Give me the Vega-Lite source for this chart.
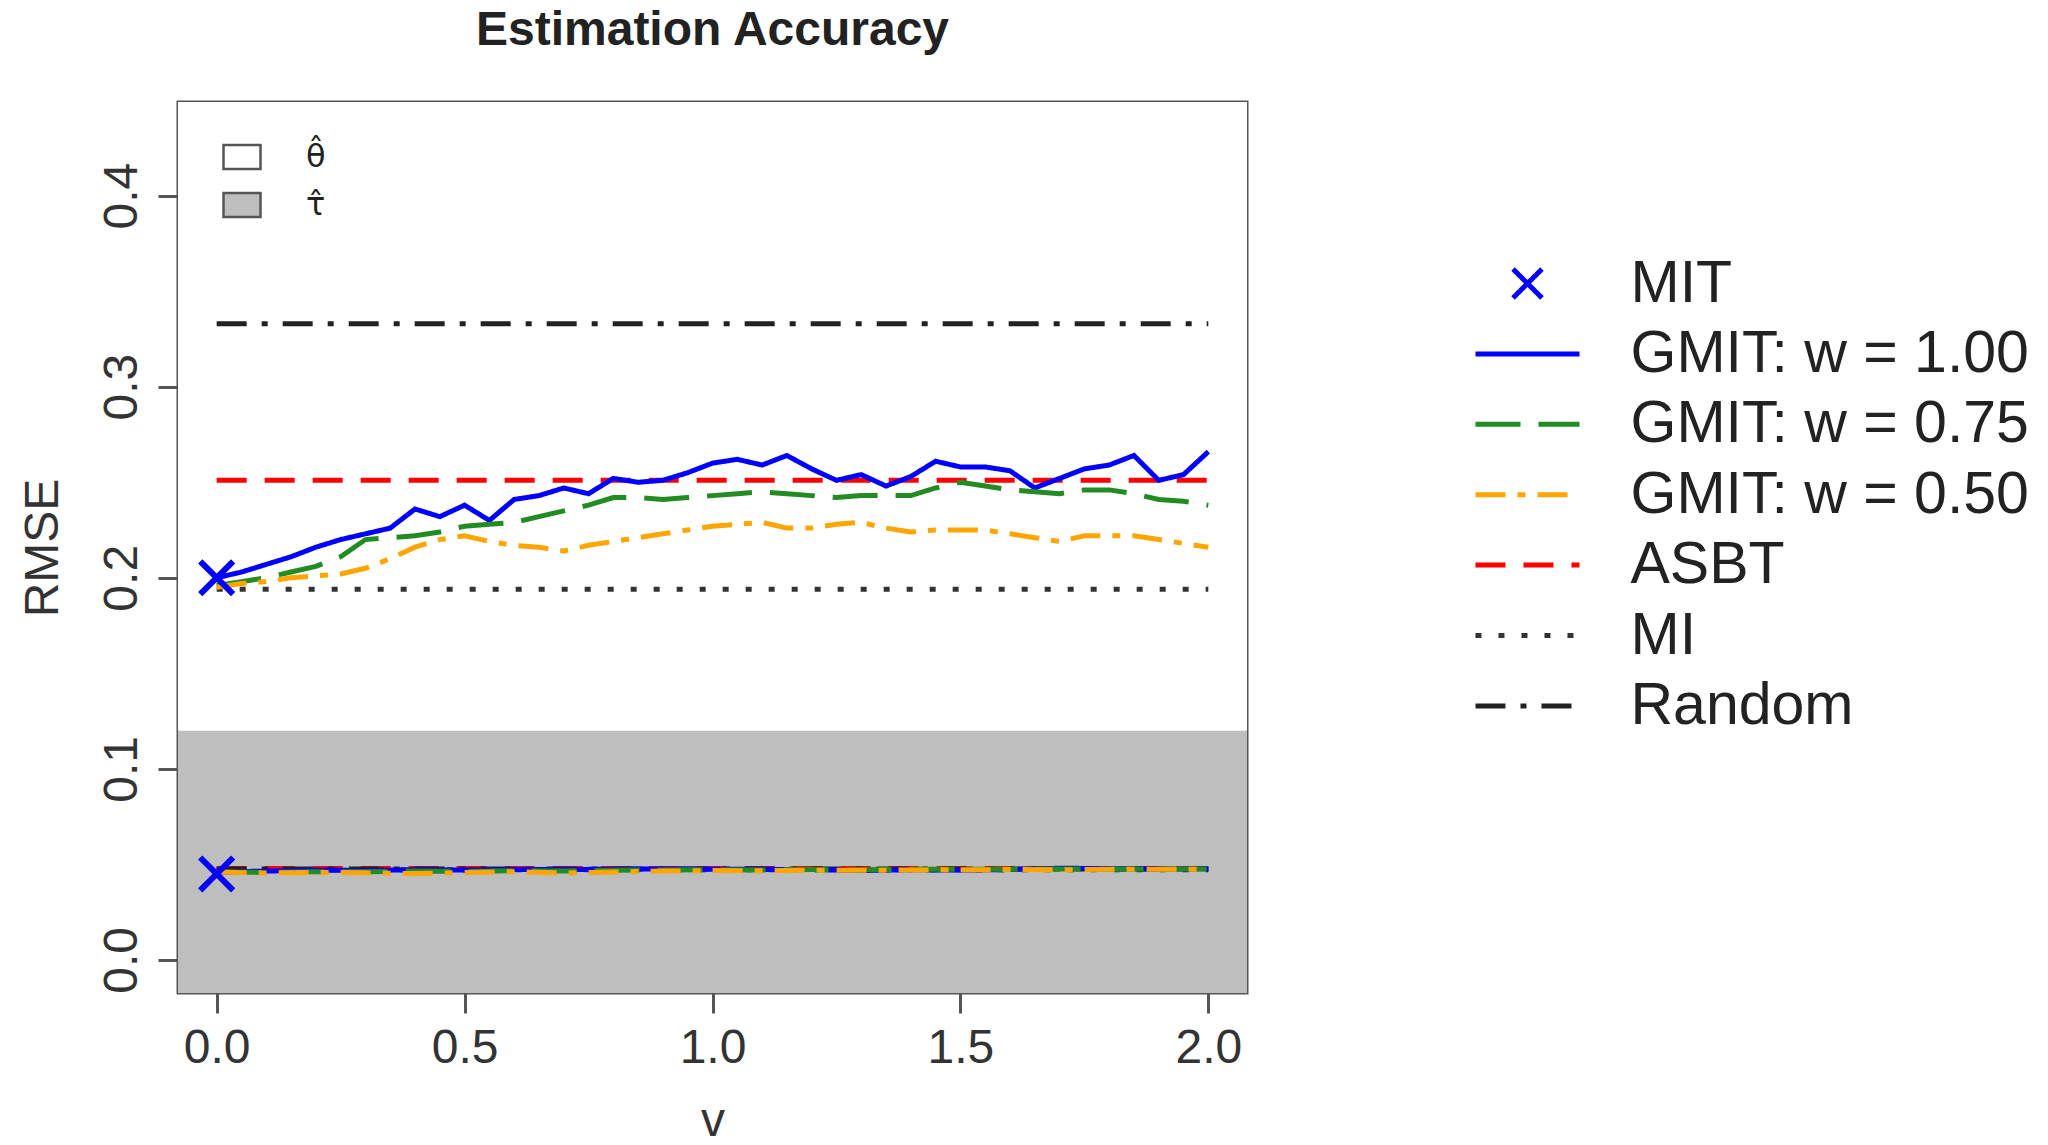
{
  "$schema": "https://vega.github.io/schema/vega-lite/v6.json",
  "width": 1069,
  "height": 891,
  "autosize": {"type": "none"},
  "padding": {"left": 178, "top": 102, "right": 801, "bottom": 152},
  "background": "white",
  "title": {"text": "Estimation Accuracy", "font": "Liberation Sans", "fontSize": 48, "fontWeight": "bold", "color": "#222", "anchor": "middle", "baseline": "alphabetic", "offset": 9},
  "config": {
    "view": {"stroke": "#555", "strokeWidth": 3},
    "axis": {"domain": false, "grid": false, "tickSize": 20, "tickWidth": 3, "tickColor": "#555", "labelFont": "Liberation Sans", "labelFontSize": 48, "labelColor": "#333", "labelFlush": false, "labelOverlap": false, "titleFont": "Liberation Sans", "titleFontSize": 48, "titleFontWeight": "normal", "titleColor": "#333"}
  },
  "datasets": {
    "regions": [
      {"param": "θ̂", "x1": -0.078, "x2": 2.078, "y1": 0.12, "y2": 0.449},
      {"param": "τ̂", "x1": -0.078, "x2": 2.078, "y1": -0.0173, "y2": 0.12}
    ],
    "series": [
      {"series": "MIT", "param": "θ̂", "v": 0, "rmse": 0.200},
      {"series": "MIT", "param": "τ̂", "v": 0, "rmse": 0.045},
      {"series": "ASBT", "param": "θ̂", "v": 0, "rmse": 0.251},
      {"series": "ASBT", "param": "θ̂", "v": 2, "rmse": 0.251},
      {"series": "MI", "param": "θ̂", "v": 0, "rmse": 0.194},
      {"series": "MI", "param": "θ̂", "v": 2, "rmse": 0.194},
      {"series": "Random", "param": "θ̂", "v": 0, "rmse": 0.333},
      {"series": "Random", "param": "θ̂", "v": 2, "rmse": 0.333},
      {"series": "ASBT", "param": "τ̂", "v": 0, "rmse": 0.0478},
      {"series": "ASBT", "param": "τ̂", "v": 2, "rmse": 0.0478},
      {"series": "MI", "param": "τ̂", "v": 0, "rmse": 0.0472},
      {"series": "MI", "param": "τ̂", "v": 2, "rmse": 0.0472},
      {"series": "Random", "param": "τ̂", "v": 0, "rmse": 0.0476},
      {"series": "Random", "param": "τ̂", "v": 2, "rmse": 0.0476},
      {"series": "GMIT: w = 1.00", "param": "θ̂", "v": 0.00, "rmse": 0.200},
      {"series": "GMIT: w = 1.00", "param": "θ̂", "v": 0.05, "rmse": 0.203},
      {"series": "GMIT: w = 1.00", "param": "θ̂", "v": 0.10, "rmse": 0.207},
      {"series": "GMIT: w = 1.00", "param": "θ̂", "v": 0.15, "rmse": 0.211},
      {"series": "GMIT: w = 1.00", "param": "θ̂", "v": 0.20, "rmse": 0.216},
      {"series": "GMIT: w = 1.00", "param": "θ̂", "v": 0.25, "rmse": 0.220},
      {"series": "GMIT: w = 1.00", "param": "θ̂", "v": 0.30, "rmse": 0.223},
      {"series": "GMIT: w = 1.00", "param": "θ̂", "v": 0.35, "rmse": 0.226},
      {"series": "GMIT: w = 1.00", "param": "θ̂", "v": 0.40, "rmse": 0.236},
      {"series": "GMIT: w = 1.00", "param": "θ̂", "v": 0.45, "rmse": 0.232},
      {"series": "GMIT: w = 1.00", "param": "θ̂", "v": 0.50, "rmse": 0.238},
      {"series": "GMIT: w = 1.00", "param": "θ̂", "v": 0.55, "rmse": 0.230},
      {"series": "GMIT: w = 1.00", "param": "θ̂", "v": 0.60, "rmse": 0.241},
      {"series": "GMIT: w = 1.00", "param": "θ̂", "v": 0.65, "rmse": 0.243},
      {"series": "GMIT: w = 1.00", "param": "θ̂", "v": 0.70, "rmse": 0.247},
      {"series": "GMIT: w = 1.00", "param": "θ̂", "v": 0.75, "rmse": 0.244},
      {"series": "GMIT: w = 1.00", "param": "θ̂", "v": 0.80, "rmse": 0.252},
      {"series": "GMIT: w = 1.00", "param": "θ̂", "v": 0.85, "rmse": 0.250},
      {"series": "GMIT: w = 1.00", "param": "θ̂", "v": 0.90, "rmse": 0.251},
      {"series": "GMIT: w = 1.00", "param": "θ̂", "v": 0.95, "rmse": 0.255},
      {"series": "GMIT: w = 1.00", "param": "θ̂", "v": 1.00, "rmse": 0.260},
      {"series": "GMIT: w = 1.00", "param": "θ̂", "v": 1.05, "rmse": 0.262},
      {"series": "GMIT: w = 1.00", "param": "θ̂", "v": 1.10, "rmse": 0.259},
      {"series": "GMIT: w = 1.00", "param": "θ̂", "v": 1.15, "rmse": 0.264},
      {"series": "GMIT: w = 1.00", "param": "θ̂", "v": 1.20, "rmse": 0.257},
      {"series": "GMIT: w = 1.00", "param": "θ̂", "v": 1.25, "rmse": 0.251},
      {"series": "GMIT: w = 1.00", "param": "θ̂", "v": 1.30, "rmse": 0.254},
      {"series": "GMIT: w = 1.00", "param": "θ̂", "v": 1.35, "rmse": 0.248},
      {"series": "GMIT: w = 1.00", "param": "θ̂", "v": 1.40, "rmse": 0.253},
      {"series": "GMIT: w = 1.00", "param": "θ̂", "v": 1.45, "rmse": 0.261},
      {"series": "GMIT: w = 1.00", "param": "θ̂", "v": 1.50, "rmse": 0.258},
      {"series": "GMIT: w = 1.00", "param": "θ̂", "v": 1.55, "rmse": 0.258},
      {"series": "GMIT: w = 1.00", "param": "θ̂", "v": 1.60, "rmse": 0.256},
      {"series": "GMIT: w = 1.00", "param": "θ̂", "v": 1.65, "rmse": 0.247},
      {"series": "GMIT: w = 1.00", "param": "θ̂", "v": 1.70, "rmse": 0.252},
      {"series": "GMIT: w = 1.00", "param": "θ̂", "v": 1.75, "rmse": 0.257},
      {"series": "GMIT: w = 1.00", "param": "θ̂", "v": 1.80, "rmse": 0.259},
      {"series": "GMIT: w = 1.00", "param": "θ̂", "v": 1.85, "rmse": 0.264},
      {"series": "GMIT: w = 1.00", "param": "θ̂", "v": 1.90, "rmse": 0.251},
      {"series": "GMIT: w = 1.00", "param": "θ̂", "v": 1.95, "rmse": 0.254},
      {"series": "GMIT: w = 1.00", "param": "θ̂", "v": 2.00, "rmse": 0.266},
      {"series": "GMIT: w = 0.75", "param": "θ̂", "v": 0.00, "rmse": 0.196},
      {"series": "GMIT: w = 0.75", "param": "θ̂", "v": 0.05, "rmse": 0.198},
      {"series": "GMIT: w = 0.75", "param": "θ̂", "v": 0.10, "rmse": 0.200},
      {"series": "GMIT: w = 0.75", "param": "θ̂", "v": 0.15, "rmse": 0.203},
      {"series": "GMIT: w = 0.75", "param": "θ̂", "v": 0.20, "rmse": 0.206},
      {"series": "GMIT: w = 0.75", "param": "θ̂", "v": 0.25, "rmse": 0.211},
      {"series": "GMIT: w = 0.75", "param": "θ̂", "v": 0.30, "rmse": 0.220},
      {"series": "GMIT: w = 0.75", "param": "θ̂", "v": 0.35, "rmse": 0.221},
      {"series": "GMIT: w = 0.75", "param": "θ̂", "v": 0.40, "rmse": 0.222},
      {"series": "GMIT: w = 0.75", "param": "θ̂", "v": 0.45, "rmse": 0.224},
      {"series": "GMIT: w = 0.75", "param": "θ̂", "v": 0.50, "rmse": 0.227},
      {"series": "GMIT: w = 0.75", "param": "θ̂", "v": 0.55, "rmse": 0.228},
      {"series": "GMIT: w = 0.75", "param": "θ̂", "v": 0.60, "rmse": 0.229},
      {"series": "GMIT: w = 0.75", "param": "θ̂", "v": 0.65, "rmse": 0.232},
      {"series": "GMIT: w = 0.75", "param": "θ̂", "v": 0.70, "rmse": 0.235},
      {"series": "GMIT: w = 0.75", "param": "θ̂", "v": 0.75, "rmse": 0.238},
      {"series": "GMIT: w = 0.75", "param": "θ̂", "v": 0.80, "rmse": 0.242},
      {"series": "GMIT: w = 0.75", "param": "θ̂", "v": 0.85, "rmse": 0.242},
      {"series": "GMIT: w = 0.75", "param": "θ̂", "v": 0.90, "rmse": 0.241},
      {"series": "GMIT: w = 0.75", "param": "θ̂", "v": 0.95, "rmse": 0.242},
      {"series": "GMIT: w = 0.75", "param": "θ̂", "v": 1.00, "rmse": 0.243},
      {"series": "GMIT: w = 0.75", "param": "θ̂", "v": 1.05, "rmse": 0.244},
      {"series": "GMIT: w = 0.75", "param": "θ̂", "v": 1.10, "rmse": 0.245},
      {"series": "GMIT: w = 0.75", "param": "θ̂", "v": 1.15, "rmse": 0.244},
      {"series": "GMIT: w = 0.75", "param": "θ̂", "v": 1.20, "rmse": 0.243},
      {"series": "GMIT: w = 0.75", "param": "θ̂", "v": 1.25, "rmse": 0.242},
      {"series": "GMIT: w = 0.75", "param": "θ̂", "v": 1.30, "rmse": 0.243},
      {"series": "GMIT: w = 0.75", "param": "θ̂", "v": 1.35, "rmse": 0.243},
      {"series": "GMIT: w = 0.75", "param": "θ̂", "v": 1.40, "rmse": 0.243},
      {"series": "GMIT: w = 0.75", "param": "θ̂", "v": 1.45, "rmse": 0.247},
      {"series": "GMIT: w = 0.75", "param": "θ̂", "v": 1.50, "rmse": 0.250},
      {"series": "GMIT: w = 0.75", "param": "θ̂", "v": 1.55, "rmse": 0.248},
      {"series": "GMIT: w = 0.75", "param": "θ̂", "v": 1.60, "rmse": 0.246},
      {"series": "GMIT: w = 0.75", "param": "θ̂", "v": 1.65, "rmse": 0.245},
      {"series": "GMIT: w = 0.75", "param": "θ̂", "v": 1.70, "rmse": 0.244},
      {"series": "GMIT: w = 0.75", "param": "θ̂", "v": 1.75, "rmse": 0.246},
      {"series": "GMIT: w = 0.75", "param": "θ̂", "v": 1.80, "rmse": 0.246},
      {"series": "GMIT: w = 0.75", "param": "θ̂", "v": 1.85, "rmse": 0.244},
      {"series": "GMIT: w = 0.75", "param": "θ̂", "v": 1.90, "rmse": 0.241},
      {"series": "GMIT: w = 0.75", "param": "θ̂", "v": 1.95, "rmse": 0.240},
      {"series": "GMIT: w = 0.75", "param": "θ̂", "v": 2.00, "rmse": 0.238},
      {"series": "GMIT: w = 0.50", "param": "θ̂", "v": 0.00, "rmse": 0.195},
      {"series": "GMIT: w = 0.50", "param": "θ̂", "v": 0.05, "rmse": 0.197},
      {"series": "GMIT: w = 0.50", "param": "θ̂", "v": 0.10, "rmse": 0.198},
      {"series": "GMIT: w = 0.50", "param": "θ̂", "v": 0.15, "rmse": 0.200},
      {"series": "GMIT: w = 0.50", "param": "θ̂", "v": 0.20, "rmse": 0.201},
      {"series": "GMIT: w = 0.50", "param": "θ̂", "v": 0.25, "rmse": 0.202},
      {"series": "GMIT: w = 0.50", "param": "θ̂", "v": 0.30, "rmse": 0.205},
      {"series": "GMIT: w = 0.50", "param": "θ̂", "v": 0.35, "rmse": 0.210},
      {"series": "GMIT: w = 0.50", "param": "θ̂", "v": 0.40, "rmse": 0.216},
      {"series": "GMIT: w = 0.50", "param": "θ̂", "v": 0.45, "rmse": 0.220},
      {"series": "GMIT: w = 0.50", "param": "θ̂", "v": 0.50, "rmse": 0.222},
      {"series": "GMIT: w = 0.50", "param": "θ̂", "v": 0.55, "rmse": 0.219},
      {"series": "GMIT: w = 0.50", "param": "θ̂", "v": 0.60, "rmse": 0.217},
      {"series": "GMIT: w = 0.50", "param": "θ̂", "v": 0.65, "rmse": 0.216},
      {"series": "GMIT: w = 0.50", "param": "θ̂", "v": 0.70, "rmse": 0.214},
      {"series": "GMIT: w = 0.50", "param": "θ̂", "v": 0.75, "rmse": 0.217},
      {"series": "GMIT: w = 0.50", "param": "θ̂", "v": 0.80, "rmse": 0.219},
      {"series": "GMIT: w = 0.50", "param": "θ̂", "v": 0.85, "rmse": 0.221},
      {"series": "GMIT: w = 0.50", "param": "θ̂", "v": 0.90, "rmse": 0.223},
      {"series": "GMIT: w = 0.50", "param": "θ̂", "v": 0.95, "rmse": 0.225},
      {"series": "GMIT: w = 0.50", "param": "θ̂", "v": 1.00, "rmse": 0.227},
      {"series": "GMIT: w = 0.50", "param": "θ̂", "v": 1.05, "rmse": 0.228},
      {"series": "GMIT: w = 0.50", "param": "θ̂", "v": 1.10, "rmse": 0.229},
      {"series": "GMIT: w = 0.50", "param": "θ̂", "v": 1.15, "rmse": 0.226},
      {"series": "GMIT: w = 0.50", "param": "θ̂", "v": 1.20, "rmse": 0.226},
      {"series": "GMIT: w = 0.50", "param": "θ̂", "v": 1.25, "rmse": 0.228},
      {"series": "GMIT: w = 0.50", "param": "θ̂", "v": 1.30, "rmse": 0.229},
      {"series": "GMIT: w = 0.50", "param": "θ̂", "v": 1.35, "rmse": 0.226},
      {"series": "GMIT: w = 0.50", "param": "θ̂", "v": 1.40, "rmse": 0.224},
      {"series": "GMIT: w = 0.50", "param": "θ̂", "v": 1.45, "rmse": 0.225},
      {"series": "GMIT: w = 0.50", "param": "θ̂", "v": 1.50, "rmse": 0.225},
      {"series": "GMIT: w = 0.50", "param": "θ̂", "v": 1.55, "rmse": 0.225},
      {"series": "GMIT: w = 0.50", "param": "θ̂", "v": 1.60, "rmse": 0.223},
      {"series": "GMIT: w = 0.50", "param": "θ̂", "v": 1.65, "rmse": 0.221},
      {"series": "GMIT: w = 0.50", "param": "θ̂", "v": 1.70, "rmse": 0.219},
      {"series": "GMIT: w = 0.50", "param": "θ̂", "v": 1.75, "rmse": 0.222},
      {"series": "GMIT: w = 0.50", "param": "θ̂", "v": 1.80, "rmse": 0.222},
      {"series": "GMIT: w = 0.50", "param": "θ̂", "v": 1.85, "rmse": 0.222},
      {"series": "GMIT: w = 0.50", "param": "θ̂", "v": 1.90, "rmse": 0.220},
      {"series": "GMIT: w = 0.50", "param": "θ̂", "v": 1.95, "rmse": 0.218},
      {"series": "GMIT: w = 0.50", "param": "θ̂", "v": 2.00, "rmse": 0.216},
      {"series": "GMIT: w = 1.00", "param": "τ̂", "v": 0.0, "rmse": 0.0460},
      {"series": "GMIT: w = 1.00", "param": "τ̂", "v": 0.1, "rmse": 0.0465},
      {"series": "GMIT: w = 1.00", "param": "τ̂", "v": 0.2, "rmse": 0.0470},
      {"series": "GMIT: w = 1.00", "param": "τ̂", "v": 0.3, "rmse": 0.0468},
      {"series": "GMIT: w = 1.00", "param": "τ̂", "v": 0.4, "rmse": 0.0472},
      {"series": "GMIT: w = 1.00", "param": "τ̂", "v": 0.5, "rmse": 0.0470},
      {"series": "GMIT: w = 1.00", "param": "τ̂", "v": 0.6, "rmse": 0.0474},
      {"series": "GMIT: w = 1.00", "param": "τ̂", "v": 0.7, "rmse": 0.0473},
      {"series": "GMIT: w = 1.00", "param": "τ̂", "v": 0.8, "rmse": 0.0475},
      {"series": "GMIT: w = 1.00", "param": "τ̂", "v": 0.9, "rmse": 0.0476},
      {"series": "GMIT: w = 1.00", "param": "τ̂", "v": 1.0, "rmse": 0.0475},
      {"series": "GMIT: w = 1.00", "param": "τ̂", "v": 1.1, "rmse": 0.0474},
      {"series": "GMIT: w = 1.00", "param": "τ̂", "v": 1.2, "rmse": 0.0473},
      {"series": "GMIT: w = 1.00", "param": "τ̂", "v": 1.3, "rmse": 0.0468},
      {"series": "GMIT: w = 1.00", "param": "τ̂", "v": 1.4, "rmse": 0.0472},
      {"series": "GMIT: w = 1.00", "param": "τ̂", "v": 1.5, "rmse": 0.0470},
      {"series": "GMIT: w = 1.00", "param": "τ̂", "v": 1.6, "rmse": 0.0473},
      {"series": "GMIT: w = 1.00", "param": "τ̂", "v": 1.7, "rmse": 0.0480},
      {"series": "GMIT: w = 1.00", "param": "τ̂", "v": 1.8, "rmse": 0.0478},
      {"series": "GMIT: w = 1.00", "param": "τ̂", "v": 1.9, "rmse": 0.0476},
      {"series": "GMIT: w = 1.00", "param": "τ̂", "v": 2.0, "rmse": 0.0477},
      {"series": "GMIT: w = 0.75", "param": "τ̂", "v": 0.0, "rmse": 0.0460},
      {"series": "GMIT: w = 0.75", "param": "τ̂", "v": 0.1, "rmse": 0.0458},
      {"series": "GMIT: w = 0.75", "param": "τ̂", "v": 0.2, "rmse": 0.0462},
      {"series": "GMIT: w = 0.75", "param": "τ̂", "v": 0.3, "rmse": 0.0461},
      {"series": "GMIT: w = 0.75", "param": "τ̂", "v": 0.4, "rmse": 0.0465},
      {"series": "GMIT: w = 0.75", "param": "τ̂", "v": 0.5, "rmse": 0.0463},
      {"series": "GMIT: w = 0.75", "param": "τ̂", "v": 0.6, "rmse": 0.0467},
      {"series": "GMIT: w = 0.75", "param": "τ̂", "v": 0.7, "rmse": 0.0466},
      {"series": "GMIT: w = 0.75", "param": "τ̂", "v": 0.8, "rmse": 0.0470},
      {"series": "GMIT: w = 0.75", "param": "τ̂", "v": 0.9, "rmse": 0.0471},
      {"series": "GMIT: w = 0.75", "param": "τ̂", "v": 1.0, "rmse": 0.0472},
      {"series": "GMIT: w = 0.75", "param": "τ̂", "v": 1.1, "rmse": 0.0471},
      {"series": "GMIT: w = 0.75", "param": "τ̂", "v": 1.2, "rmse": 0.0473},
      {"series": "GMIT: w = 0.75", "param": "τ̂", "v": 1.3, "rmse": 0.0472},
      {"series": "GMIT: w = 0.75", "param": "τ̂", "v": 1.4, "rmse": 0.0474},
      {"series": "GMIT: w = 0.75", "param": "τ̂", "v": 1.5, "rmse": 0.0474},
      {"series": "GMIT: w = 0.75", "param": "τ̂", "v": 1.6, "rmse": 0.0475},
      {"series": "GMIT: w = 0.75", "param": "τ̂", "v": 1.7, "rmse": 0.0476},
      {"series": "GMIT: w = 0.75", "param": "τ̂", "v": 1.8, "rmse": 0.0475},
      {"series": "GMIT: w = 0.75", "param": "τ̂", "v": 1.9, "rmse": 0.0476},
      {"series": "GMIT: w = 0.75", "param": "τ̂", "v": 2.0, "rmse": 0.0476},
      {"series": "GMIT: w = 0.50", "param": "τ̂", "v": 0.0, "rmse": 0.0460},
      {"series": "GMIT: w = 0.50", "param": "τ̂", "v": 0.1, "rmse": 0.0455},
      {"series": "GMIT: w = 0.50", "param": "τ̂", "v": 0.2, "rmse": 0.0458},
      {"series": "GMIT: w = 0.50", "param": "τ̂", "v": 0.3, "rmse": 0.0456},
      {"series": "GMIT: w = 0.50", "param": "τ̂", "v": 0.4, "rmse": 0.0452},
      {"series": "GMIT: w = 0.50", "param": "τ̂", "v": 0.5, "rmse": 0.0458},
      {"series": "GMIT: w = 0.50", "param": "τ̂", "v": 0.6, "rmse": 0.0462},
      {"series": "GMIT: w = 0.50", "param": "τ̂", "v": 0.7, "rmse": 0.0455},
      {"series": "GMIT: w = 0.50", "param": "τ̂", "v": 0.8, "rmse": 0.0460},
      {"series": "GMIT: w = 0.50", "param": "τ̂", "v": 0.9, "rmse": 0.0465},
      {"series": "GMIT: w = 0.50", "param": "τ̂", "v": 1.0, "rmse": 0.0468},
      {"series": "GMIT: w = 0.50", "param": "τ̂", "v": 1.1, "rmse": 0.0467},
      {"series": "GMIT: w = 0.50", "param": "τ̂", "v": 1.2, "rmse": 0.0470},
      {"series": "GMIT: w = 0.50", "param": "τ̂", "v": 1.3, "rmse": 0.0469},
      {"series": "GMIT: w = 0.50", "param": "τ̂", "v": 1.4, "rmse": 0.0471},
      {"series": "GMIT: w = 0.50", "param": "τ̂", "v": 1.5, "rmse": 0.0472},
      {"series": "GMIT: w = 0.50", "param": "τ̂", "v": 1.6, "rmse": 0.0473},
      {"series": "GMIT: w = 0.50", "param": "τ̂", "v": 1.7, "rmse": 0.0472},
      {"series": "GMIT: w = 0.50", "param": "τ̂", "v": 1.8, "rmse": 0.0474},
      {"series": "GMIT: w = 0.50", "param": "τ̂", "v": 1.9, "rmse": 0.0475},
      {"series": "GMIT: w = 0.50", "param": "τ̂", "v": 2.0, "rmse": 0.0475}
    ]
  },
  "layer": [
    {
      "data": {"name": "regions"},
      "mark": {"type": "rect", "strokeWidth": 0},
      "encoding": {
        "x": {"field": "x1", "type": "quantitative", "scale": {"domain": [-0.078, 2.078], "nice": false, "zero": false}, "title": "v",
          "axis": {"values": [0, 0.5, 1, 1.5, 2], "format": ".1f", "labelBaseline": "alphabetic", "labelPadding": 49, "titleBaseline": "bottom", "titleY": 152}},
        "x2": {"field": "x2"},
        "y": {"field": "y1", "type": "quantitative", "scale": {"domain": [-0.0173, 0.449], "nice": false, "zero": false}, "title": "RMSE",
          "axis": {"values": [0, 0.1, 0.2, 0.3, 0.4], "format": ".1f", "labelAngle": -90, "labelAlign": "center", "labelBaseline": "alphabetic", "labelPadding": 22, "titleBaseline": "alphabetic", "titleX": -121, "titleAngle": -90}},
        "y2": {"field": "y2"},
        "fill": {"field": "param", "type": "nominal", "scale": {"domain": ["θ̂", "τ̂"], "range": ["#ffffff", "#bebebe"]},
          "legend": {"orient": "none", "legendX": 44, "legendY": 35, "title": null, "symbolType": "M-1,-0.65L1,-0.65L1,0.65L-1,0.65Z", "symbolSize": 1369, "symbolStrokeColor": "#555", "symbolStrokeWidth": 2.5, "labelFont": "DejaVu Sans", "labelFontSize": 32, "labelColor": "#222", "labelOffset": 44, "rowPadding": 10, "labelBaseline": "middle", "padding": 0}}
      }
    },
    {
      "data": {"name": "series"},
      "transform": [{"filter": "datum.series !== 'MIT'"}],
      "mark": {"type": "line", "strokeWidth": 5, "strokeCap": "butt"},
      "encoding": {
        "x": {"field": "v", "type": "quantitative", "scale": {"domain": [-0.078, 2.078], "nice": false, "zero": false}, "title": "v"},
        "y": {"field": "rmse", "type": "quantitative", "scale": {"domain": [-0.0173, 0.449], "nice": false, "zero": false}, "title": "RMSE"},
        "detail": {"field": "param", "type": "nominal"},
        "order": {"field": "v", "type": "quantitative"},
        "color": {"field": "series", "type": "nominal",
          "scale": {"domain": ["MIT", "GMIT: w = 1.00", "GMIT: w = 0.75", "GMIT: w = 0.50", "ASBT", "MI", "Random"], "range": ["#0000ff", "#0000ff", "#228b22", "#ffa500", "#ff0000", "#333333", "#222222"]},
          "legend": {"orient": "none", "legendX": 1320, "legendY": 152, "title": null, "symbolSize": 1156, "symbolStrokeWidth": 5, "symbolOpacity": 1, "labelFont": "Liberation Sans", "labelFontSize": 59, "labelColor": "#222", "labelOffset": 73.5, "rowPadding": 10.4, "padding": 0, "labelLimit": 700}},
        "strokeDash": {"field": "series", "type": "nominal",
          "scale": {"domain": ["MIT", "GMIT: w = 1.00", "GMIT: w = 0.75", "GMIT: w = 0.50", "ASBT", "MI", "Random"], "range": [[1, 0], [1, 0], [45, 18], [30, 12, 8, 12], [30, 18], [6, 17], [30, 15, 6, 15]]},
          "legend": {"orient": "none", "legendX": 1320, "legendY": 152, "title": null, "symbolSize": 1156, "symbolStrokeWidth": 5, "symbolOpacity": 1, "labelFont": "Liberation Sans", "labelFontSize": 59, "labelColor": "#222", "labelOffset": 73.5, "rowPadding": 10.4, "padding": 0, "labelLimit": 700}}
      }
    },
    {
      "data": {"name": "series"},
      "transform": [{"filter": "datum.series === 'MIT'"}],
      "mark": {"type": "point", "filled": false, "size": 1500, "strokeWidth": 6, "opacity": 1},
      "encoding": {
        "x": {"field": "v", "type": "quantitative", "scale": {"domain": [-0.078, 2.078], "nice": false, "zero": false}, "title": "v"},
        "y": {"field": "rmse", "type": "quantitative", "scale": {"domain": [-0.0173, 0.449], "nice": false, "zero": false}, "title": "RMSE"},
        "color": {"field": "series", "type": "nominal",
          "scale": {"domain": ["MIT", "GMIT: w = 1.00", "GMIT: w = 0.75", "GMIT: w = 0.50", "ASBT", "MI", "Random"], "range": ["#0000ff", "#0000ff", "#228b22", "#ffa500", "#ff0000", "#333333", "#222222"]},
          "legend": {"orient": "none", "legendX": 1320, "legendY": 152, "title": null, "symbolSize": 1156, "symbolStrokeWidth": 5, "symbolOpacity": 1, "labelFont": "Liberation Sans", "labelFontSize": 59, "labelColor": "#222", "labelOffset": 73.5, "rowPadding": 10.4, "padding": 0, "labelLimit": 700}},
        "shape": {"field": "series", "type": "nominal",
          "scale": {"domain": ["MIT", "GMIT: w = 1.00", "GMIT: w = 0.75", "GMIT: w = 0.50", "ASBT", "MI", "Random"], "range": ["M-0.85,-0.85L0.85,0.85M0.85,-0.85L-0.85,0.85", "M-3.06,0L3.06,0", "M-3.06,0L3.06,0", "M-3.06,0L3.06,0", "M-3.06,0L3.06,0", "M-3.06,0L3.06,0", "M-3.06,0L3.06,0"]},
          "legend": {"orient": "none", "legendX": 1320, "legendY": 152, "title": null, "symbolSize": 1156, "symbolStrokeWidth": 5, "symbolOpacity": 1, "labelFont": "Liberation Sans", "labelFontSize": 59, "labelColor": "#222", "labelOffset": 73.5, "rowPadding": 10.4, "padding": 0, "labelLimit": 700}}
      }
    }
  ]
}
